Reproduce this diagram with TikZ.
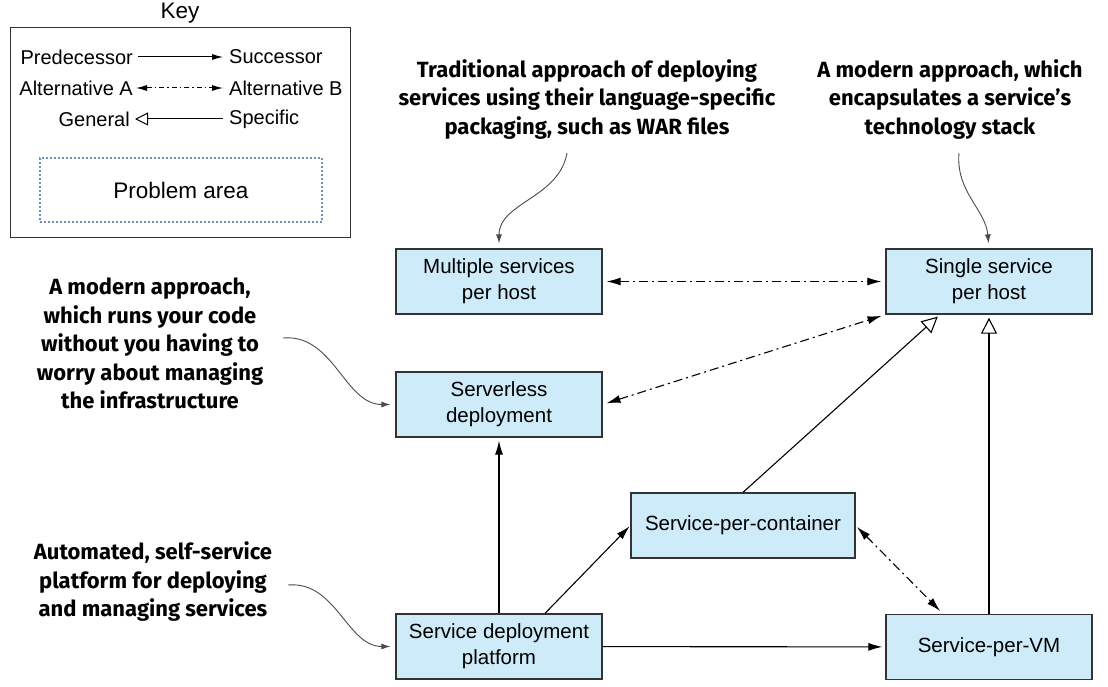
\documentclass[tikz,border=0pt]{standalone}
\usepackage{fontspec}
\setmainfont{Liberation Sans}
\newfontfamily\notefont{Fira Sans}
\usetikzlibrary{arrows.meta}
\definecolor{boxfill}{HTML}{CDEBF8}
\definecolor{boxline}{HTML}{333333}
\definecolor{dotblue}{HTML}{6F8DBE}
\definecolor{notegray}{HTML}{4A4A4A}
\tikzstyle{svcbox} = [draw=boxline, fill=boxfill, line width=1.3pt, rectangle,
    minimum width=206, minimum height=65, inner sep=0, align=center,
    font=\fontsize{20.5}{26}\selectfont]
\tikzstyle{notetext} = [align=center, inner sep=0,
    font=\notefont\bfseries\fontsize{22}{28.5}\selectfont]
\tikzstyle{keytext} = [inner sep=0, font=\fontsize{20}{24}\selectfont]
\tikzstyle{keytitle} = [inner sep=0, font=\fontsize{22.5}{27}\selectfont]
\tikzstyle{succline} = [line width=1.1pt, -{Latex[length=14pt,width=8pt]}, shorten >=3pt]
\tikzstyle{altline} = [line width=1.1pt, {Latex[length=14pt,width=8pt]}-{Latex[length=14pt,width=8pt]},
    dash pattern=on 9pt off 4pt on 2pt off 4pt, shorten >=4pt, shorten <=4pt]
\tikzstyle{genline} = [line width=1.1pt, -{Triangle[open,length=16pt,width=16pt,fill=white]}, shorten >=3pt]
\tikzstyle{noteline} = [draw=notegray, line width=0.9pt, -{Latex[length=9pt,width=6pt]}, shorten >=5pt]

\begin{document}
\begin{tikzpicture}[x=1pt, y=-1pt]
\useasboundingbox (0,0) rectangle (1108,687);
\node[keytitle] (keylbl) at (180,13) {Key};
\node[draw=boxline, line width=1pt, minimum width=340, minimum height=209] (keybox) at (180,132.5) {};
\node[keytext, anchor=east] (pred) at (133,57) {Predecessor};
\node[keytext, anchor=west] (succ) at (229,57) {Successor};
\node[keytext, anchor=east] (alta) at (133,88) {Alternative A};
\node[keytext, anchor=west] (altb) at (229,88) {Alternative B};
\node[keytext, anchor=east] (gen) at (130,119) {General};
\node[keytext, anchor=west] (spec) at (229,119) {Specific};
\node[draw=dotblue, line width=1.3pt, dash pattern=on 2pt off 2pt, minimum width=282, minimum height=64,
    font=\fontsize{22.5}{27}\selectfont] (prob) at (181,190) {Problem area};
\draw[line width=1pt, -{Latex[length=11pt,width=6pt]}, shorten <=5pt, shorten >=6pt] (pred) -- (succ);
\draw[line width=1pt, {Latex[length=11pt,width=6pt]}-{Latex[length=11pt,width=6pt]},
    dash pattern=on 5pt off 3pt on 1.5pt off 3pt, shorten <=3pt, shorten >=6pt] (alta) -- (altb);
\draw[line width=1pt, -{Triangle[open,length=13pt,width=13pt,fill=white]}, shorten <=6pt, shorten >=5pt] (spec) -- (gen);

\node[svcbox] (multi) at (499,281.5) {Multiple services\\per host};
\node[svcbox] (single) at (989,281.5) {Single service\\per host};
\node[svcbox] (serverless) at (499,404.5) {Serverless\\deployment};
\node[svcbox, minimum width=224] (container) at (743,525.5) {Service-per-container};
\node[svcbox] (platform) at (499,646.5) {Service deployment\\platform};
\node[svcbox] (vm) at (989,647) {Service-per-VM};

\draw[altline] (multi) -- (single);
\draw[altline] (serverless.east) -- (single.south west);
\draw[genline] (container.north) -- ([xshift=-49pt]single.south);
\draw[genline] (vm) -- (single);
\draw[succline] (platform) -- (serverless);
\draw[succline, shorten >=1pt] ([xshift=46pt]platform.north) -- (container.west);
\draw[succline] (platform) -- (vm);
\draw[altline, shorten <=2pt] (container.east) -- ([xshift=-46pt]vm.north);

\node[notetext] (note1) at (587,99.5) {Traditional approach of deploying\\services using their language-specific\\packaging, such as WAR files};
\node[notetext] (note2) at (950,99.5) {A modern approach, which\\encapsulates a service’s\\technology stack};
\node[notetext] (note3) at (150,343.5) {A modern approach,\\which runs your code\\without you having to\\worry about managing\\the infrastructure};
\node[notetext] (note4) at (153,582) {Automated, self-service\\platform for deploying\\and managing services};
\coordinate (n1) at (567,153);
\coordinate (n2) at (959,153);
\coordinate (n3) at (283,338);
\coordinate (n4) at (288,585);
\draw[noteline] (n1) to[out=-100,in=90] (multi.north);
\draw[noteline] (n2) to[out=-95,in=95] (single.north);
\draw[noteline] (n3) to[out=5,in=180] (serverless.west);
\draw[noteline] (n4) to[out=5,in=180] (platform.west);
\end{tikzpicture}
\end{document}
